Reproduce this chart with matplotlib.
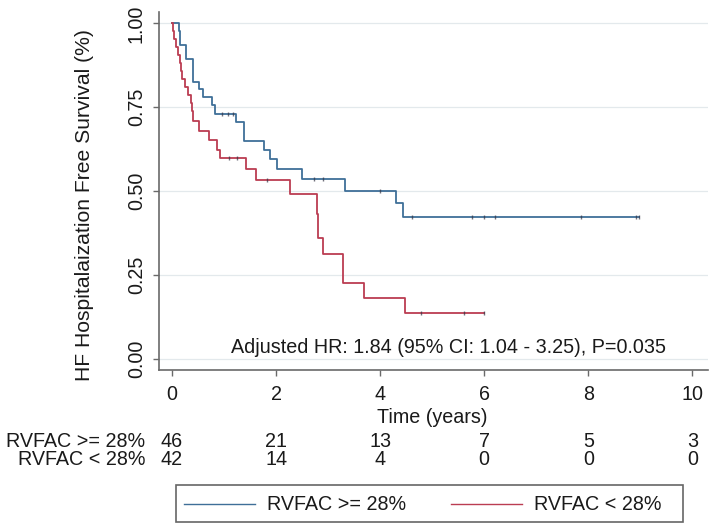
import matplotlib
matplotlib.use("Agg")
import matplotlib.pyplot as plt
from matplotlib.transforms import blended_transform_factory
from matplotlib.patches import Rectangle
from matplotlib.lines import Line2D

plt.rcParams['font.family'] = ['Liberation Sans', 'DejaVu Sans']

# ---- data ----
group_labels = ["RVFAC >= 28%", "RVFAC < 28%"]

hi_time = [0, 0.135, 0.154, 0.263, 0.410, 0.519, 0.603, 0.763, 0.827, 1.224, 1.391,
           1.776, 1.885, 2.013, 2.506, 3.33, 4.30, 4.44, 8.97]
hi_surv = [1.0, 0.978, 0.935, 0.894, 0.826, 0.804, 0.781, 0.756, 0.731, 0.705, 0.649,
           0.622, 0.595, 0.565, 0.535, 0.501, 0.465, 0.423, 0.423]
hi_cens_time = [0.955, 1.083, 1.179, 2.72, 2.90, 4.00, 4.61, 5.77, 5.99, 6.21, 7.85, 8.91, 8.97]

lo_time = [0, 0.01, 0.045, 0.08, 0.109, 0.154, 0.18, 0.199, 0.25, 0.314, 0.365, 0.39,
           0.41, 0.51, 0.71, 0.86, 0.92, 1.42, 1.62, 2.27, 2.79, 2.81, 2.90, 3.29,
           3.68, 4.48, 6.0]
lo_surv = [1.0, 0.976, 0.952, 0.929, 0.905, 0.881, 0.857, 0.833, 0.810, 0.786, 0.762, 0.738,
           0.710, 0.680, 0.651, 0.622, 0.597, 0.566, 0.533, 0.492, 0.43, 0.359, 0.312, 0.225,
           0.182, 0.135, 0.135]
lo_cens_time = [1.10, 1.24, 1.82, 4.78, 5.62, 6.0]

risk_times = [0, 2, 4, 6, 8, 10]
risk_hi = [46, 21, 13, 7, 5, 3]
risk_lo = [42, 14, 4, 0, 0, 0]

yticks = [0.0, 0.25, 0.5, 0.75, 1.0]
xticks = [0, 2, 4, 6, 8, 10]

annot = "Adjusted HR: 1.84 (95% CI: 1.04 - 3.25), P=0.035"

# ---- style ----
W, H = 709, 526
FS = 14.2
FSY = 15.2
TXT = '#1a1a1a'
BLUE = '#3f6f98'
RED = '#bb3d52'
AX = '#6a6a6a'
em = FS * 100 / 72

fig = plt.figure(figsize=(W / 100, H / 100), dpi=100)
ax = fig.add_axes([159 / W, 1 - 370 / H, (708 - 159) / W, (370 - 12) / H])

def surv_at(times, surv, t):
    v = surv[0]
    for ti, si in zip(times, surv):
        if ti <= t:
            v = si
    return v

for times, surv, cens, col in [(hi_time, hi_surv, hi_cens_time, BLUE),
                               (lo_time, lo_surv, lo_cens_time, RED)]:
    ax.step(times, surv, where='post', color=col, lw=1.3, zorder=3)
    cy = [surv_at(times, surv, c) for c in cens]
    ax.plot(cens, cy, linestyle='none', marker='|', markersize=3.5,
            markeredgewidth=1.0, color='#333344', alpha=0.7, zorder=4)

ax.set_xlim(-0.25, 10.3)
ax.set_ylim(-0.034, 1.034)
ax.set_yticks(yticks)
ax.set_yticklabels([f"{v:.2f}" for v in yticks], rotation=90, va='center')
ax.set_xticks(xticks)
ax.set_xticklabels([str(v) for v in xticks])
ax.grid(axis='y', color='#e3e9ec', lw=0.9, zorder=0)
ax.set_axisbelow(True)
for s in ['top', 'right']:
    ax.spines[s].set_visible(False)
for s in ['left', 'bottom']:
    ax.spines[s].set_color(AX)
    ax.spines[s].set_linewidth(1.2)
ax.tick_params(axis='both', colors=AX, length=4.5, width=1.0, labelsize=FS,
               labelcolor=TXT)
ax.tick_params(axis='x', pad=6.0)
ax.tick_params(axis='y', pad=5.0)

ax.text(5.31, 0.016, annot, ha='center', va='baseline', fontsize=FS, color=TXT)

fig.text(85 / W, 1 - 205 / H, "HF Hospitalaization Free Survival (%)", rotation=90,
         ha='center', va='center', fontsize=FSY, color=TXT)
fig.text(432 / W, 1 - 422.7 / H, "Time (years)", ha='center', va='baseline',
         fontsize=FS, color=TXT)

# risk table
tr = blended_transform_factory(ax.transData, fig.transFigure)
for row_y, lab, vals in [(447, group_labels[0], risk_hi), (465, group_labels[1], risk_lo)]:
    fig.text(145 / W, 1 - row_y / H, lab, ha='right', va='baseline', fontsize=FS, color=TXT)
    for t, v in zip(risk_times, vals):
        ax.text(t, 1 - row_y / H, str(v), transform=tr, ha='center', va='baseline',
                fontsize=FS, color=TXT, clip_on=False)

# legend
fig.add_artist(Rectangle((176 / W, 1 - 522 / H), (683 - 176) / W, 37 / H,
                         transform=fig.transFigure, fill=False, edgecolor='#666666', lw=1.2))
handles = [Line2D([], [], color=BLUE, lw=1.0), Line2D([], [], color=RED, lw=1.0)]
fig.legend(handles, group_labels, loc='center left', bbox_to_anchor=(184 / W, 1 - 505 / H),
           ncol=2, frameon=False, borderpad=0, borderaxespad=0, handlelength=71 / em,
           handletextpad=12 / em, columnspacing=45 / em, fontsize=FS, labelcolor=TXT)

fig.savefig("out.png", dpi=100)
